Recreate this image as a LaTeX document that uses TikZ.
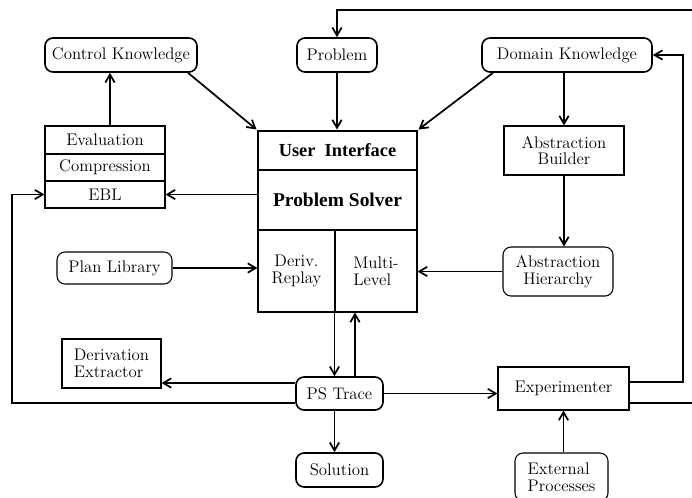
\documentclass[tikz,border=0pt]{standalone}
\usepackage{fontspec}
\newfontfamily\headserif{Liberation Serif}
\usetikzlibrary{arrows.meta,calc}
\begin{document}
\begin{tikzpicture}[x=0.75pt,y=-0.75pt,
  base/.style={font=\fontsize{12.6}{12.6}\selectfont, inner sep=0pt, align=center},
  rbox/.style={base, draw, rounded corners=6pt, line width=1.2pt},
  rboxthin/.style={base, draw, rounded corners=6pt, line width=0.8pt},
  sbox/.style={base, draw, line width=0.8pt},
  psbox/.style={base, draw, line width=2.2pt},
  conn/.style={line width=1.3pt, -{Straight Barb[length=6pt,width=7pt]}},
  wire/.style={line width=1.3pt}]
\useasboundingbox (0,0) rectangle (692,497);
\clip (0,0) rectangle (692,497);

% knowledge sources along the top
\node[rbox, minimum width=114pt, minimum height=25.5pt] (ck) at (121,55) {Control Knowledge};
\node[rbox, minimum width=60pt, minimum height=25.5pt] (prob) at (337,55) {Problem};
\node[rbox, minimum width=127.5pt, minimum height=25.5pt] (dk) at (567,55) {Domain Knowledge};

% learning modules
\node[sbox, minimum width=90pt, minimum height=21pt] (eval) at (105,140) {Evaluation};
\node[sbox, minimum width=90pt, minimum height=20.25pt] (comp) at (105,167.5) {Compression};
\node[sbox, minimum width=90pt, minimum height=20.25pt] (ebl) at (105,194.5) {EBL};

% problem solver core
\node[sbox, minimum width=57.75pt, minimum height=61.5pt] (deriv) at (296.5,271) {Deriv.\\Replay};
\node[sbox, minimum width=61.5pt, minimum height=61.5pt, align=left] (multi) at (376,271) {Multi-\\Level};
\node[psbox, minimum width=119.25pt, minimum height=29.25pt, font=\headserif\fontsize{13.8}{14}\selectfont\bfseries] (ui) at (337.5,150.5) {User\ \ Interface};
\node[psbox, minimum width=119.25pt, minimum height=45pt, font=\headserif\fontsize{14.6}{15}\selectfont\bfseries] (ps) at (337.5,200) {Problem Solver};

% abstraction
\node[sbox, minimum width=90pt, minimum height=36.75pt] (ab) at (564,150.5) {Abstraction\\Builder};
\node[rboxthin, minimum width=82.5pt, minimum height=36.75pt] (ah) at (558,271.5) {Abstraction\\Hierarchy};

% remaining components
\node[rboxthin, minimum width=86.25pt, minimum height=24pt] (plan) at (114.5,268) {Plan Library};
\node[sbox, minimum width=74.25pt, minimum height=36.75pt, align=left] (dex) at (111.5,363.5) {Derivation\\Extractor};
\node[rbox, minimum width=65.25pt, minimum height=24.75pt] (pst) at (339.5,393.5) {PS Trace};
\node[sbox, minimum width=98.25pt, minimum height=32.25pt] (exp) at (563.5,388.5) {Experimenter};
\node[rbox, minimum width=65.25pt, minimum height=25.5pt] (sol) at (339.5,470) {Solution};
\node[rboxthin, minimum width=69.75pt, minimum height=36pt, align=left] (ext) at (561.5,477) {External\\Processes};

% helper coordinates
\coordinate (ea) at ($(eval.north)+(5,0)$);
\coordinate (cks) at ($(ck.south)+(67,0)$);
\coordinate (dks) at ($(dk.south)+(-74,0)$);
\coordinate (up) at ($(pst.north)+(15.5,0)$);
\coordinate (pswU) at ($(pst.west)+(0,-10.5)$);
\coordinate (pswD) at ($(pst.west)+(0,9.5)$);
\coordinate (expU) at ($(exp.east)+(0,-6.5)$);
\coordinate (expD) at ($(exp.east)+(0,14.5)$);
\coordinate (leftrail) at (12,0);
\coordinate (rightrail) at (683,0);
\coordinate (edgeR) at (692,0);
\coordinate (topline) at (692,10);

% connectors
\draw[conn] (ea) -- (ea |- ck.south);
\draw[conn] (cks) -- (ui.north west);
\draw[conn] (prob.south) -- (prob.south |- ui.north);
\draw[conn] (dks) -- (ui.north east);
\draw[conn] (ab.north |- dk.south) -- (ab.north);
\draw[conn] (ab.south) -- (ab.south |- ah.north);
\draw[conn] (ah.west) -- (ah.west -| multi.east);
\draw[conn] (ebl.east -| ps.west) -- (ebl.east);
\draw[conn] (plan.east) -- (plan.east -| deriv.west);
\draw[conn] (multi.south west) -- (multi.south west |- pst.north);
\draw[conn] (up) -- (up |- multi.south);
\draw[conn] (pswU) -- (pswU -| dex.east);
\draw[conn] (pswD) -| (leftrail |- ebl.west) -- (ebl.west);
\draw[conn] (pst.east) -- (pst.east -| exp.west);
\draw[conn] (multi.south west |- pst.south) -- (multi.south west |- sol.north);
\draw[conn] (exp.south |- ext.north) -- (exp.south);
\draw[conn] (expU) -| (rightrail |- dk.east) -- (dk.east);
\draw[wire] (expD) -- (expD -| edgeR);
\draw[conn] (topline) -- (topline -| prob.north) -- (prob.north);
\end{tikzpicture}
\end{document}
